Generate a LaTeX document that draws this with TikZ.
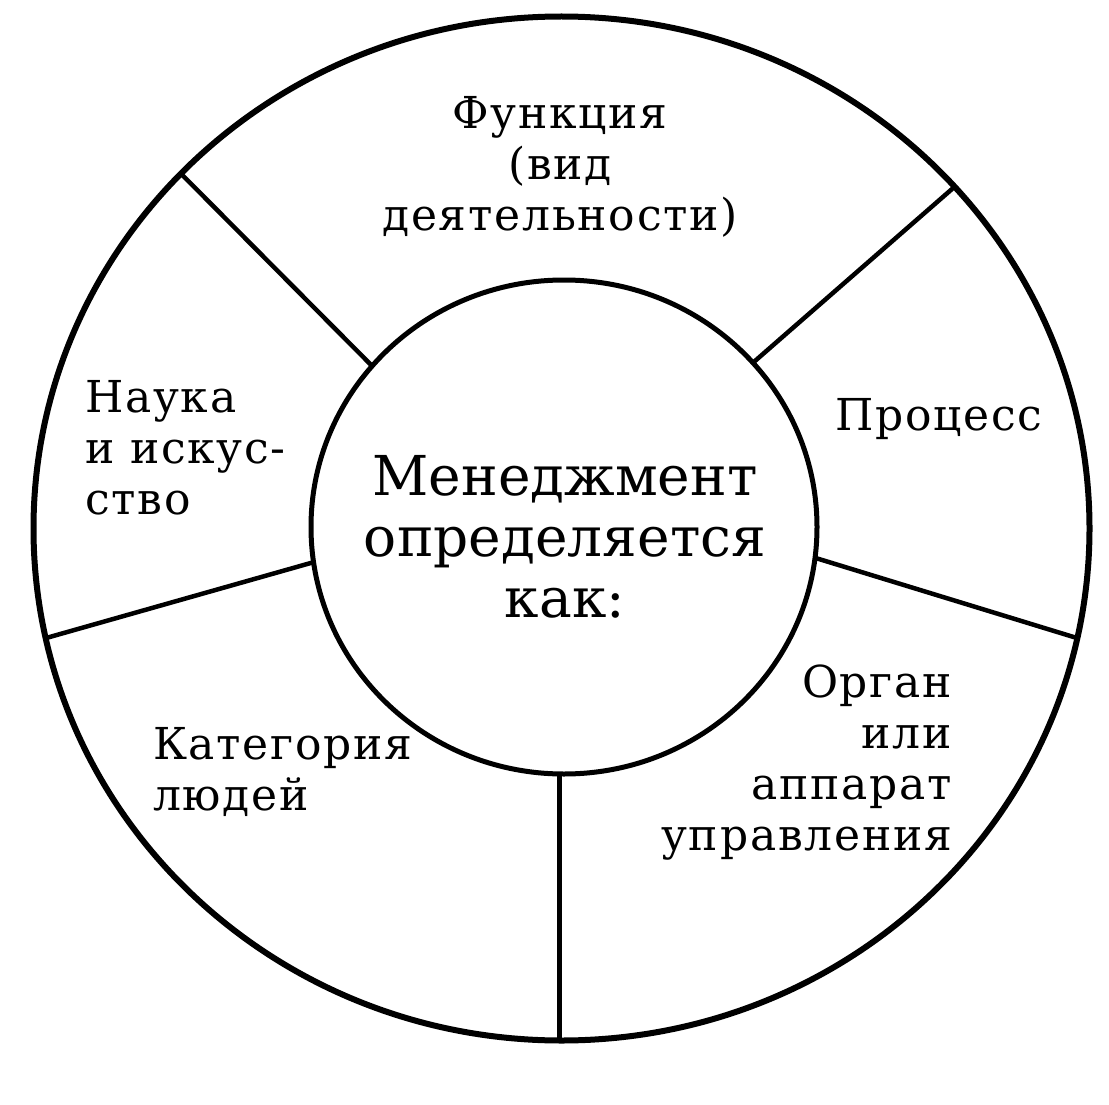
\documentclass[tikz,border=0pt]{standalone}
\usepackage{fontspec}
\setmainfont{DejaVu Serif}
\usetikzlibrary{shapes.geometric}
\begin{document}
\begin{tikzpicture}[x=1pt,y=-1pt,
  ring/.style={draw, ellipse, inner sep=0pt, outer sep=0pt},
  divider/.style={line width=4.5pt},
  label/.style={inner sep=0pt, outer sep=0pt},
  sidefont/.style={font=\fontsize{44}{51}\selectfont\addfontfeature{LetterSpace=4}},
  mainfont/.style={font=\fontsize{55}{61}\selectfont}]
\useasboundingbox (0,0) rectangle (1109,1105);
\node[ring, line width=6pt, minimum width=1056pt, minimum height=1024pt] (outer) at (561.5,528.5) {};
\node[ring, line width=5pt, minimum width=506pt, minimum height=494pt] (inner) at (564,527) {};
\draw[divider] (inner.140) -- (outer.137.6);
\draw[divider] (inner.41) -- (outer.41.5);
\draw[divider] (inner.-7.8) -- (outer.-12.7);
\draw[divider] (inner.188) -- (outer.192.6);
\draw[divider] (inner.-91.4) -- (inner.-91.4 |- outer.south);
\node[label, sidefont, align=center, anchor=base] (func) at (560,230) {Функция\\(вид\\деятельности)};
\node[label, sidefont, align=left, anchor=base west] (science) at (85,514) {Наука\\и искус-\\ство};
\node[label, sidefont, anchor=base west] (process) at (835,430) {Процесс};
\node[label, mainfont, align=center, anchor=base] (mgmt) at (565,617) {Менеджмент\\определяется\\как:};
\node[label, sidefont, align=right, anchor=base east] (organ) at (952,850) {Орган\\или\\аппарат\\управления};
\node[label, sidefont, align=left, anchor=base west] (people) at (153,810) {Категория\\людей};
\end{tikzpicture}
\end{document}
